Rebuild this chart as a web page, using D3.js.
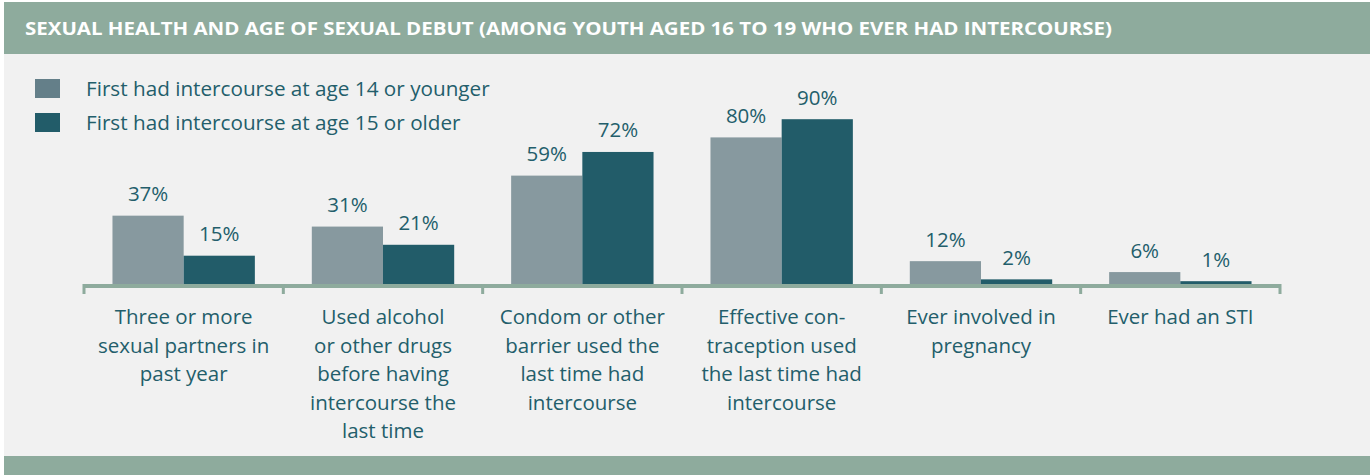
<!DOCTYPE html>
<html>
<head>
<meta charset="utf-8">
<script src="https://cdn.jsdelivr.net/npm/d3@7"></script>
<style>
  html, body { margin: 0; padding: 0; background: #ffffff; }
  svg { display: block; font-family: "Open Sans", "Noto Sans", sans-serif; }
</style>
</head>
<body>
<div id="chart"></div>
<script>
// chart data
const title = "SEXUAL HEALTH AND AGE OF SEXUAL DEBUT (AMONG YOUTH AGED 16 TO 19 WHO EVER HAD INTERCOURSE)";
const categories = [
  "Three or more\nsexual partners in\npast year",
  "Used alcohol\nor other drugs\nbefore having\nintercourse the\nlast time",
  "Condom or other\nbarrier used the\nlast time had\nintercourse",
  "Effective con-\ntraception used\nthe last time had\nintercourse",
  "Ever involved in\npregnancy",
  "Ever had an STI"
];
const seriesNames = [
  "First had intercourse at age 14 or younger",
  "First had intercourse at age 15 or older"
];
const age14OrYounger = [37, 31, 59, 80, 12, 6];
const age15OrOlder = [15, 21, 72, 90, 2, 1];

const width = 1370, height = 475;
const headerColor = "#8eab9d";
const panelColor = "#f1f1f1";
const textColor = "#235e6b";
const barColors = ["#87999f", "#225c69"];
const legendColors = ["#647f89", "#225c69"];

const svg = d3.select("#chart")
  .append("svg")
  .attr("width", width)
  .attr("height", height);

// panel + header + footer bands
svg.append("rect").attr("x", 4).attr("y", 2).attr("width", width - 4).attr("height", height - 2).attr("fill", panelColor);
svg.append("rect").attr("x", 4).attr("y", 2).attr("width", width - 4).attr("height", 52).attr("fill", headerColor);
svg.append("rect").attr("x", 4).attr("y", 456).attr("width", width - 4).attr("height", height - 456).attr("fill", headerColor);

svg.append("text")
  .attr("x", 25)
  .attr("y", 35)
  .attr("fill", "#ffffff")
  .style("font-weight", "bold")
  .style("font-size", "17px")
  .attr("textLength", 1087)
  .attr("lengthAdjust", "spacingAndGlyphs")
  .text(title);

// legend
const legend = svg.append("g");
seriesNames.forEach(function(name, i) {
  const ly = 79 + i * 34;
  legend.append("rect")
    .attr("x", 35).attr("y", ly)
    .attr("width", 25).attr("height", 19)
    .attr("fill", legendColors[i]);
  legend.append("text")
    .attr("x", 86).attr("y", ly + 17)
    .attr("fill", textColor)
    .style("font-size", "20.7px")
    .text(name);
});

// scales
const x0 = d3.scaleBand()
  .domain(d3.range(categories.length))
  .range([84, 1280])
  .padding(0);

const x1 = d3.scaleBand()
  .domain([0, 1])
  .range([0, x0.bandwidth()])
  .paddingInner(0)
  .paddingOuter(0.4);

const y = d3.scaleLinear()
  .domain([0, 100])
  .range([283, 101]);

const rows = categories.map((c, i) => [age14OrYounger[i], age15OrOlder[i]]);

// bars (run down under the axis line)
const groups = svg.append("g")
  .selectAll("g")
  .data(rows)
  .join("g")
  .attr("transform", (d, i) => "translate(" + x0(i) + ",0)");

groups.selectAll("rect")
  .data(d => d)
  .join("rect")
  .attr("x", (d, j) => x1(j))
  .attr("y", d => y(d))
  .attr("width", x1.bandwidth())
  .attr("height", d => y(0) - y(d) + 2)
  .attr("fill", (d, j) => barColors[j]);

groups.selectAll("text")
  .data(d => d)
  .join("text")
  .attr("x", (d, j) => x1(j) + x1.bandwidth() / 2)
  .attr("y", d => y(d) - 14.5)
  .attr("text-anchor", "middle")
  .attr("fill", textColor)
  .style("font-size", "20.5px")
  .text(d => d + "%");

// axis line with ticks at band edges
const axis = svg.append("g").attr("transform", "translate(0,284)");
axis.append("rect")
  .attr("x", x0.range()[0] - 1)
  .attr("y", 0)
  .attr("width", x0.range()[1] - x0.range()[0] + 2)
  .attr("height", 4)
  .attr("fill", headerColor);
axis.selectAll(".tick")
  .data(d3.range(categories.length + 1))
  .join("rect")
  .attr("class", "tick")
  .attr("x", i => x0.range()[0] + i * x0.step() - 1.5)
  .attr("y", 0)
  .attr("width", 3)
  .attr("height", 10)
  .attr("fill", headerColor);

// category labels
svg.append("g")
  .selectAll("text")
  .data(categories)
  .join("text")
  .attr("text-anchor", "middle")
  .attr("fill", textColor)
  .style("font-size", "20.5px")
  .each(function(d, i) {
    const t = d3.select(this);
    d.split("\n").forEach(function(line, k) {
      t.append("tspan")
        .attr("x", x0(i) + x0.bandwidth() / 2)
        .attr("y", 324 + k * 28.5)
        .text(line);
    });
  });
</script>
</body>
</html>
